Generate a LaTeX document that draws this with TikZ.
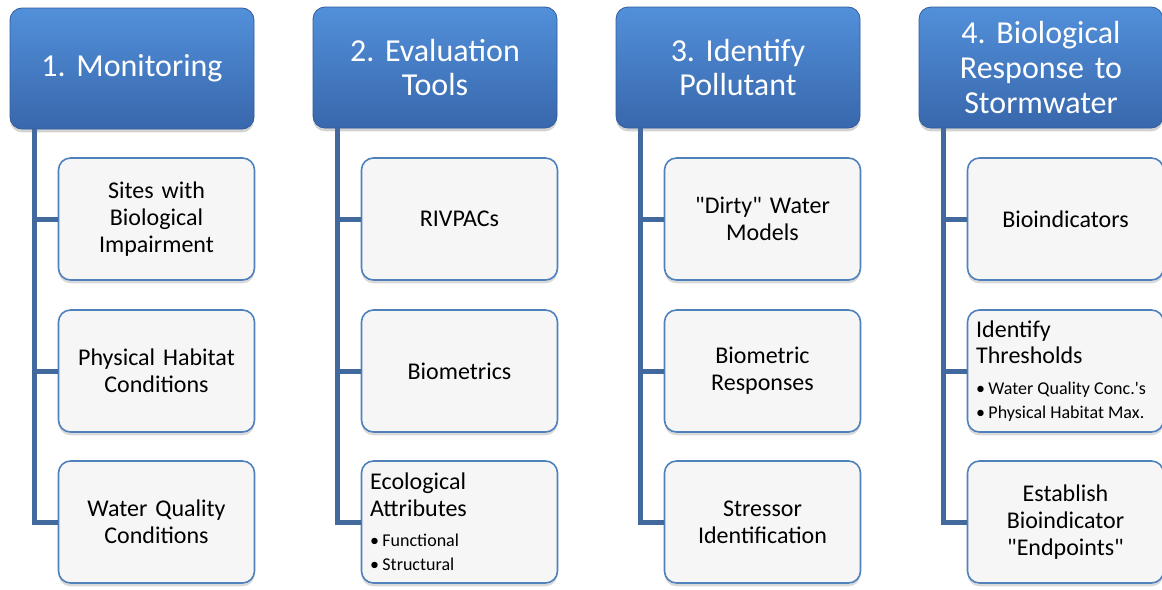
\documentclass[tikz,border=0pt]{standalone}
\usepackage{fontspec}
\setmainfont{Carlito}
\usetikzlibrary{shadows}

\definecolor{headtop}{RGB}{82,144,218}
\definecolor{headbot}{RGB}{56,103,172}
\definecolor{headline}{RGB}{50,92,155}
\definecolor{boxline}{RGB}{79,129,189}
\definecolor{boxfill}{RGB}{246,246,246}
\definecolor{barcol}{RGB}{65,105,158}

\tikzset{
  head/.style={rounded corners=9pt, draw=headline, line width=0.6pt,
    top color=headtop, bottom color=headbot,
    minimum width=183pt, minimum height=90.75pt, text width=172pt,
    align=center, text=white, font=\fontsize{24}{26}\selectfont\frenchspacing,
    drop shadow={shadow xshift=0pt, shadow yshift=-2.5pt, opacity=0.35}},
  item/.style={rounded corners=9pt, draw=boxline, line width=1.2pt,
    fill=boxfill, minimum width=146.25pt, minimum height=91.5pt,
    text width=134pt, inner xsep=6.5pt, align=center,
    font=\fontsize{18}{20}\selectfont\frenchspacing,
    drop shadow={shadow xshift=0pt, shadow yshift=-2.5pt, opacity=0.3}},
  itemlist/.style={item, align=left},
  bar/.style={draw=barcol, line width=3.75pt}
}

% two bullet lines under a left-aligned heading
\newcommand{\sublist}[2]{\par\vspace{5pt}{\fontsize{13.5}{18}\selectfont
  \spaceskip=0pt \xspaceskip=0pt
  \textbullet\hspace{2.5pt}#1\par\textbullet\hspace{2.5pt}#2\par}}
\newcommand{\dq}{\textquotedbl}

\begin{document}
\begin{tikzpicture}[x=0.75pt,y=-0.75pt]

\useasboundingbox (0,0) rectangle (1162,589);
\clip (0,0) rectangle (1162,589); % last column runs off the page

% Column headers
\node[head] (h1) at (132,68.5) {1. Monitoring};
\node[head] (h2) at (435,67.5) {2. Evaluation\\Tools};
\node[head] (h3) at (738,67.5) {3. Identify\\Pollutant};
\node[head] (h4) at (1041,67.5) {4. Biological\\Response to\\Stormwater};

% Column 1
\node[item] (c11) at (156.5,219) {Sites with\\Biological\\Impairment};
\node[item] (c12) at (156.5,371) {Physical Habitat\\Conditions};
\node[item] (c13) at (156.5,522) {Water Quality\\Conditions};

% Column 2
\node[item] (c21) at (459.5,219) {RIVPACs};
\node[item] (c22) at (459.5,371) {Biometrics};
\node[itemlist] (c23) at (459.5,522) {Ecological\\Attributes\sublist{Functional}{Structural}};

% Column 3
\node[item] (c31) at (762.5,219) {\dq Dirty\dq{} Water\\Models};
\node[item] (c32) at (762.5,371) {Biometric\\Responses};
\node[item] (c33) at (762.5,522) {Stressor\\Identification};

% Column 4
\node[item] (c41) at (1065.5,219) {Bioindicators};
\node[itemlist] (c42) at (1065.5,371) {Identify\\Thresholds\sublist{Water Quality Conc.\textquotesingle s}{Physical Habitat Max.}};
\node[item] (c43) at (1065.5,522) {Establish\\Bioindicator\\\dq Endpoints\dq};

% Trunk lines below each header
\coordinate (b1) at ([xshift=18.75pt]h1.south west);
\coordinate (b2) at ([xshift=18.75pt]h2.south west);
\coordinate (b3) at ([xshift=18.75pt]h3.south west);
\coordinate (b4) at ([xshift=18.75pt]h4.south west);

\draw[bar] (b1) |- (c13.west);
\draw[bar] (b1 |- c11.west) -- (c11.west);
\draw[bar] (b1 |- c12.west) -- (c12.west);

\draw[bar] (b2) |- (c23.west);
\draw[bar] (b2 |- c21.west) -- (c21.west);
\draw[bar] (b2 |- c22.west) -- (c22.west);

\draw[bar] (b3) |- (c33.west);
\draw[bar] (b3 |- c31.west) -- (c31.west);
\draw[bar] (b3 |- c32.west) -- (c32.west);

\draw[bar] (b4) |- (c43.west);
\draw[bar] (b4 |- c41.west) -- (c41.west);
\draw[bar] (b4 |- c42.west) -- (c42.west);

\end{tikzpicture}
\end{document}
